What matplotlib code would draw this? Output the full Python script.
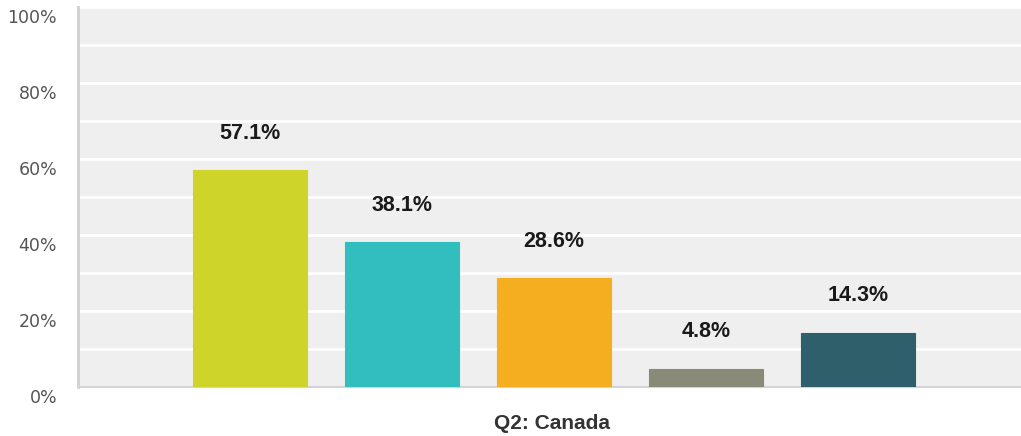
import matplotlib
matplotlib.use("Agg")
import matplotlib.pyplot as plt
from matplotlib.transforms import ScaledTranslation

values = [57.1, 38.1, 28.6, 4.8, 14.3]
labels = ["57.1%", "38.1%", "28.6%", "4.8%", "14.3%"]
colors = ["#cfd42a", "#32bdbf", "#f6ae21", "#8a8a78", "#2f5f6b"]
yticks = [0, 20, 40, 60, 80, 100]
ytick_labels = ["0%", "20%", "40%", "60%", "80%", "100%"]
xlabel = "Q2: Canada"

fig = plt.figure(figsize=(10.21, 4.36), dpi=100)
ax = fig.add_axes([78 / 1021, (436 - 387) / 436, 1 - 78 / 1021, 380 / 436])
ax.set_facecolor("#efefef")

x = list(range(len(values)))
ax.bar(x, values, width=0.75, color=colors, edgecolor=colors, linewidth=0.8, zorder=3)

for xi, v, lab in zip(x, values, labels):
    ax.annotate(lab, (xi, v), xytext=(0, 37), textcoords="offset pixels",
                ha="center", va="center", fontsize=15.5, fontweight="bold",
                family="Liberation Sans", color="#1a1a1a", zorder=4)

ax.set_xlim(-1.132, 5.07)
ax.set_ylim(0, 100)
ax.set_axisbelow(True)
ax.set_yticks(yticks)
ax.set_yticks(range(10, 100, 20), minor=True)
ax.yaxis.grid(True, which="major", color="white", linewidth=2)
ax.yaxis.grid(True, which="minor", color="white", linewidth=2)
ax.set_yticklabels(ytick_labels, fontsize=12.5, family="DejaVu Sans", color="#555555")
ax.tick_params(axis="y", which="both", length=0, pad=15)
ax.set_xticks([])
offset = ScaledTranslation(0, -9 / 100, fig.dpi_scale_trans)
for t in ax.get_yticklabels():
    t.set_transform(t.get_transform() + offset)

for side in ["top", "right"]:
    ax.spines[side].set_visible(False)
ax.spines["left"].set_color("#d0d0d0")
ax.spines["left"].set_linewidth(2)
ax.spines["bottom"].set_color("#d4d4d4")
ax.spines["bottom"].set_linewidth(1.5)

fig.text(552 / 1021, 1 - 423 / 436, xlabel, ha="center", va="center",
         fontsize=15, fontweight="bold", family="Liberation Sans", color="#333333")

fig.savefig("out.png", dpi=100)
